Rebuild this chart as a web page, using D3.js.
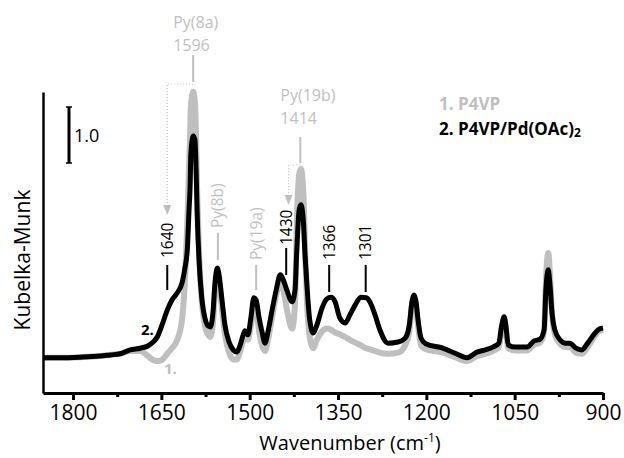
<!DOCTYPE html>
<html lang="en">
<head>
    <meta charset="UTF-8">
    <title>DRIFT spectra P4VP</title>
    <script src="https://d3js.org/d3.v7.min.js"></script>
    <style>
        body {
            margin: 0;
            font-family: "Open Sans", Arial, sans-serif;
        }
        svg {
            overflow: visible;
        }
    </style>
</head>
<body>
    <div id="container"></div>

    <script>
        // wavenumber grid (cm-1)
        const wavenumber = [1851,1822,1788,1754,1737,1720,1703,1686,1673,1664,1657,1649,1640,1632,1623,1615,1610,1606,1603,1601,1600,1596,1593,1591,1589,1586,1581,1576,1571,1567,1562,1559,1555,1552,1547,1542,1535,1528,1522,1516,1511,1508,1503,1498,1493,1489,1484,1479,1474,1469,1462,1455,1448,1443,1437,1428,1423,1420,1416,1413,1409,1406,1403,1398,1392,1386,1377,1369,1362,1355,1347,1338,1330,1321,1311,1302,1296,1287,1279,1265,1248,1236,1229,1224,1221,1218,1214,1209,1201,1172,1151,1131,1114,1100,1087,1077,1072,1068,1065,1061,1049,1029,1017,1007,1000,997,993,990,987,982,973,963,956,946,936,926,915,908,900];

        // 1. P4VP (Kubelka-Munk units)
        const kmP4VP = [0.63,0.63,0.64,0.66,0.68,0.70,0.75,0.75,0.66,0.59,0.57,0.59,0.70,0.80,0.95,1.3,2.0,3.0,4.0,4.7,5.1,5.38,5.2,4.5,3.5,2.5,1.6,1.2,1.05,1.00,1.3,1.8,2.05,1.95,1.5,1.05,0.72,0.6,0.6,0.75,0.95,1.0,0.95,1.2,1.55,1.5,1.1,0.85,0.75,0.95,1.35,1.75,1.95,1.85,1.5,1.15,1.6,3.0,3.9,4.0,3.6,2.6,1.7,1.0,0.8,0.95,1.1,1.15,1.13,1.08,1.05,1.0,0.95,0.9,0.85,0.8,0.78,0.75,0.72,0.7,0.72,0.85,1.1,1.6,1.7,1.6,1.2,0.85,0.78,0.72,0.64,0.57,0.66,0.70,0.75,0.82,1.15,1.32,1.15,0.8,0.76,0.76,0.86,0.9,1.1,2.0,2.5,2.1,1.5,1.06,0.88,0.82,0.82,0.72,0.70,0.82,1.0,1.1,1.13];

        // 2. P4VP/Pd(OAc)2
        const kmComplex = [0.63,0.63,0.64,0.66,0.68,0.70,0.77,0.80,0.84,0.91,1.00,1.21,1.48,1.66,1.79,1.96,2.23,2.55,3.27,3.75,4.25,4.59,4.52,3.98,3.14,2.38,1.66,1.34,1.20,1.18,1.48,1.96,2.23,2.11,1.66,1.21,0.91,0.77,0.73,0.86,1.04,1.11,1.04,1.34,1.70,1.66,1.34,1.09,0.89,1.09,1.48,1.84,2.11,2.02,1.84,1.63,1.84,2.55,3.27,3.36,3.09,2.46,1.96,1.30,1.07,1.21,1.52,1.68,1.71,1.63,1.34,1.25,1.39,1.57,1.71,1.70,1.63,1.39,1.13,0.89,0.91,0.98,1.21,1.66,1.75,1.66,1.30,0.98,0.88,0.80,0.71,0.63,0.73,0.77,0.82,0.89,1.21,1.36,1.21,0.86,0.82,0.82,0.93,0.96,1.13,1.84,2.20,1.93,1.48,1.13,0.95,0.89,0.89,0.80,0.77,0.89,1.05,1.13,1.16];

        const xTicks = [1800, 1650, 1500, 1350, 1200, 1050, 900];
        const xMinorTicks = [1725, 1575, 1425, 1275, 1125, 975];

        // rotated band labels
        const bandLabels = ['1640', 'Py(8b)', 'Py(19a)', '1430', '1366', '1301'];
        const bandPositions = [1640, 1554, 1489, 1438, 1365, 1303];
        const bandIsPure = [false, true, true, false, false, false];

        const legendNames = ['1. P4VP', '2. P4VP/Pd(OAc)'];

        const black = '#000000';
        const grey = '#bfbfbf';

        const svg = d3.select('#container').append('svg')
            .attr('width', 624)
            .attr('height', 458);

        const x = d3.scaleLinear()
            .domain([1851, 900])
            .range([43, 603]);

        const y = d3.scaleLinear()
            .domain([0, 5.375])
            .range([393, 92]);

        const line = d3.line()
            .x(d => x(d[0]))
            .y(d => y(d[1]))
            .curve(d3.curveMonotoneX);

        const pure = wavenumber.map((w, i) => [w, kmP4VP[i]]);
        const complex = wavenumber.map((w, i) => [w, kmComplex[i]]);

        svg.append('path')
            .datum(pure)
            .attr('d', line)
            .attr('fill', 'none')
            .attr('stroke', grey)
            .attr('stroke-width', 6)
            .attr('stroke-linejoin', 'round');

        svg.append('path')
            .datum(complex)
            .attr('d', line)
            .attr('fill', 'none')
            .attr('stroke', black)
            .attr('stroke-width', 5)
            .attr('stroke-linejoin', 'round');

        // x axis
        const xAxis = svg.append('g')
            .attr('transform', 'translate(0,393)')
            .call(d3.axisBottom(x).tickValues(xTicks).tickSize(7).tickSizeOuter(0).tickFormat(d3.format('d')));
        xAxis.select('.domain').attr('stroke-width', 3);
        xAxis.selectAll('.tick line').attr('stroke-width', 3);
        xAxis.selectAll('.tick text')
            .attr('font-family', '"Open Sans", sans-serif')
            .attr('font-size', 21)
            .attr('dy', '0.85em')
            .attr('y', 9);

        const xMinor = svg.append('g')
            .attr('transform', 'translate(0,393)')
            .call(d3.axisBottom(x).tickValues(xMinorTicks).tickSize(4).tickFormat(''));
        xMinor.select('.domain').remove();
        xMinor.selectAll('.tick line').attr('stroke-width', 3);

        // y axis, no ticks
        const yAxis = svg.append('g')
            .attr('transform', 'translate(43,0)')
            .call(d3.axisLeft(y).tickValues([]).tickSizeOuter(0));
        yAxis.select('.domain').attr('stroke-width', 2.5);

        svg.append('text')
            .attr('x', 350)
            .attr('y', 450)
            .attr('text-anchor', 'middle')
            .attr('font-size', 20)
            .html('Wavenumber (cm<tspan dy="-8" font-size="12">-1</tspan><tspan dy="8">)</tspan>');

        svg.append('text')
            .attr('transform', 'translate(30,260) rotate(-90)')
            .attr('text-anchor', 'middle')
            .attr('font-size', 21)
            .text('Kubelka-Munk');

        // scale bar 1.0
        const barLen = y(0) - y(1);
        svg.append('line')
            .attr('x1', 69).attr('x2', 69)
            .attr('y1', 107).attr('y2', 107 + barLen)
            .attr('stroke', black).attr('stroke-width', 3);
        [107, 107 + barLen].forEach(v => {
            svg.append('line')
                .attr('x1', 66).attr('x2', 72)
                .attr('y1', v).attr('y2', v)
                .attr('stroke', black).attr('stroke-width', 1.5);
        });
        svg.append('text')
            .attr('x', 74).attr('y', 142)
            .attr('font-size', 18)
            .text('1.0');

        // legend
        svg.append('text')
            .attr('x', 439).attr('y', 110)
            .attr('font-size', 17).attr('font-weight', 'bold')
            .attr('fill', grey)
            .text(legendNames[0]);
        svg.append('text')
            .attr('x', 439).attr('y', 135)
            .attr('font-size', 17).attr('font-weight', 'bold')
            .attr('fill', black)
            .html(legendNames[1] + '<tspan font-size="12" dy="2">2</tspan>');

        // curve tags
        svg.append('text')
            .attr('x', 141).attr('y', 335)
            .attr('font-size', 15).attr('font-weight', 'bold')
            .text('2.');
        svg.append('text')
            .attr('x', 164).attr('y', 374)
            .attr('font-size', 15).attr('font-weight', 'bold')
            .attr('fill', grey)
            .text('1.');

        // top labels for the two main pyridine bands
        const topBands = [
            {name: 'Py(8a)', wn: '1596', pos: 1596, textY: 28, lineTop: 55, lineBot: 82, arrowTo: 1640, arrowTip: 215},
            {name: 'Py(19b)', wn: '1414', pos: 1414, textY: 101, lineTop: 137, lineBot: 163, arrowTo: 1434, arrowTip: 205}
        ];
        topBands.forEach(b => {
            const bx = x(b.pos);
            svg.append('text')
                .attr('x', bx - 20).attr('y', b.textY)
                .attr('font-size', 16).attr('fill', grey)
                .text(b.name);
            svg.append('text')
                .attr('x', bx - 20).attr('y', b.textY + 23)
                .attr('font-size', 16).attr('fill', grey)
                .text(b.wn);
            svg.append('line')
                .attr('x1', bx).attr('x2', bx)
                .attr('y1', b.lineTop).attr('y2', b.lineBot)
                .attr('stroke', grey).attr('stroke-width', 2);
            const ax = x(b.arrowTo);
            svg.append('path')
                .attr('d', `M${bx},${b.lineBot + 2}H${ax}V${b.arrowTip - 9}`)
                .attr('fill', 'none')
                .attr('stroke', grey)
                .attr('stroke-width', 1.2)
                .attr('stroke-dasharray', '1,2');
            svg.append('path')
                .attr('d', `M${ax - 4},${b.arrowTip - 10}L${ax + 4},${b.arrowTip - 10}L${ax},${b.arrowTip}Z`)
                .attr('fill', grey);
        });

        // rotated band labels with leader lines
        const bandTextBottom = [258, 228, 260, 245, 260, 260];
        const bandLineTop = [265, 233, 265, 248, 265, 265];
        const bandLineBot = [290, 260, 290, 275, 292, 292];
        bandLabels.forEach((t, i) => {
            const bx = x(bandPositions[i]);
            const col = bandIsPure[i] ? grey : black;
            svg.append('text')
                .attr('transform', `translate(${bx},${bandTextBottom[i]}) rotate(-90)`)
                .attr('dy', '0.35em')
                .attr('font-size', 15.5)
                .attr('fill', col)
                .text(t);
            svg.append('line')
                .attr('x1', bx).attr('x2', bx)
                .attr('y1', bandLineTop[i]).attr('y2', bandLineBot[i])
                .attr('stroke', col).attr('stroke-width', 2);
        });
    </script>
</body>
</html>
